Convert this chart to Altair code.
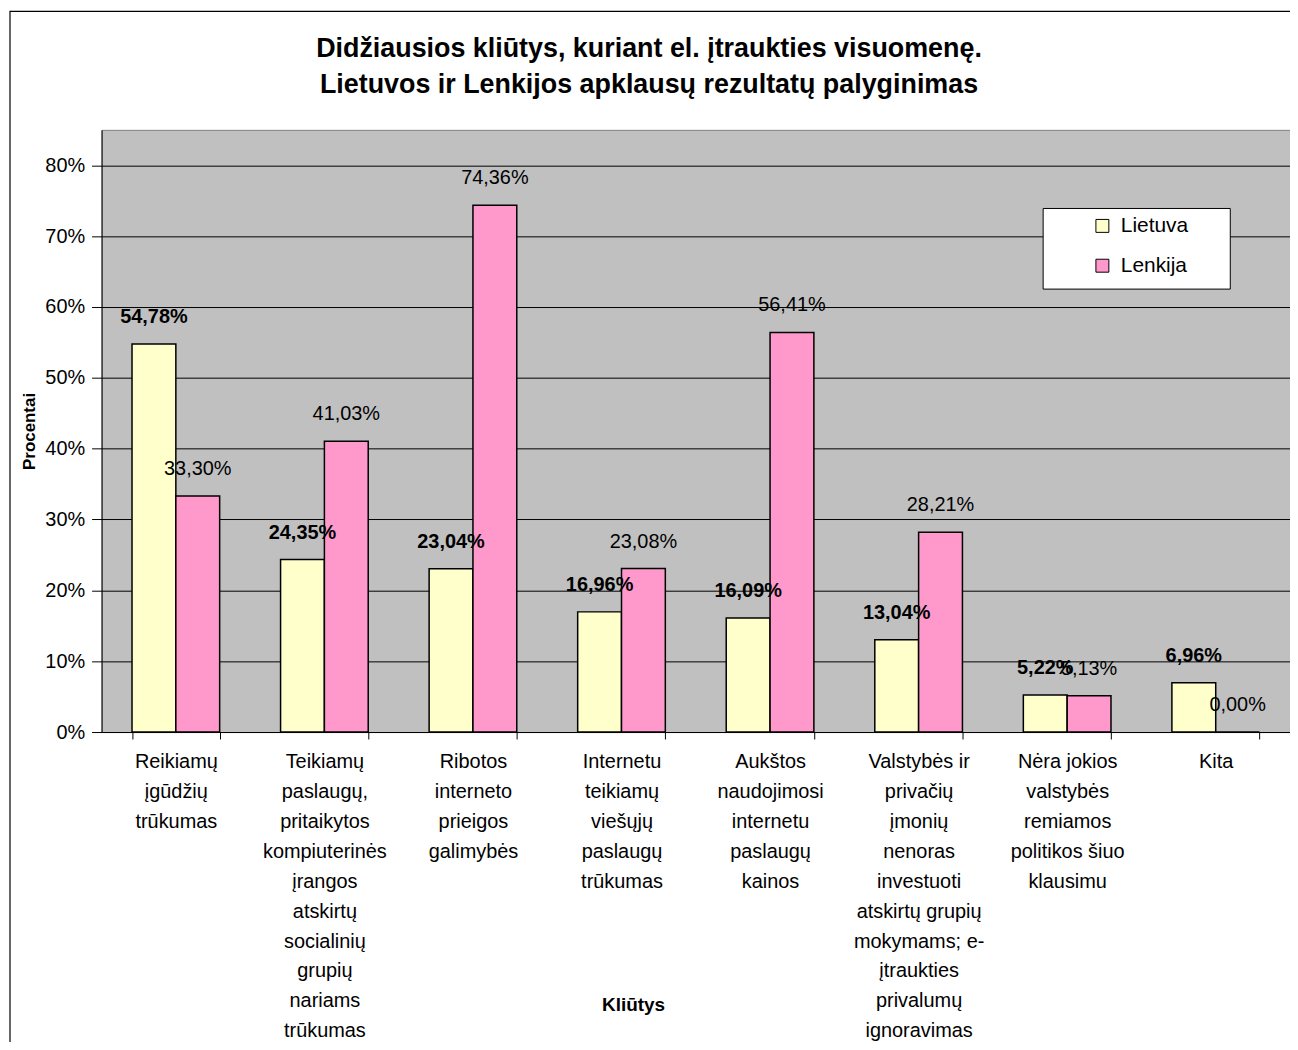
import altair as alt
import pandas as pd

categories = [
    "Reikiamų|įgūdžių|trūkumas",
    "Teikiamų|paslaugų,|pritaikytos|kompiuterinės|įrangos|atskirtų|socialinių|grupių|nariams|trūkumas",
    "Ribotos|interneto|prieigos|galimybės",
    "Internetu|teikiamų|viešųjų|paslaugų|trūkumas",
    "Aukštos|naudojimosi|internetu|paslaugų|kainos",
    "Valstybės ir|privačių|įmonių|nenoras|investuoti|atskirtų grupių|mokymams; e-|įtraukties|privalumų|ignoravimas",
    "Nėra jokios|valstybės|remiamos|politikos šiuo|klausimu",
    "Kita",
]
lietuva = [54.78, 24.35, 23.04, 16.96, 16.09, 13.04, 5.22, 6.96]
lenkija = [33.30, 41.03, 74.36, 23.08, 56.41, 28.21, 5.13, 0.00]
series_names = ["Lietuva", "Lenkija"]
series_colors = ["#FFFFCC", "#FF99CC"]
y_ticks = [0, 0.1, 0.2, 0.3, 0.4, 0.5, 0.6, 0.7, 0.8]
title_lines = [
    "Didžiausios kliūtys, kuriant el. įtraukties visuomenę.",
    "Lietuvos ir Lenkijos apklausų rezultatų palyginimas",
]

rows = []
for c, a, b in zip(categories, lietuva, lenkija):
    for s, v in zip(series_names, (a, b)):
        rows.append({"cat": c, "series": s, "value": v / 100,
                     "label": f"{v:.2f}%".replace(".", ",")})
df = pd.DataFrame(rows)

W, H = 1194, 605
FONT = "Liberation Sans"

x_enc = alt.X(
    "cat:N", sort=categories,
    scale=alt.Scale(paddingInner=0.41, paddingOuter=0.205),
    axis=alt.Axis(
        title="Kliūtys", labelExpr="split(datum.label, '|')", labelAngle=0,
        labelFontSize=20, labelLineHeight=30, labelLimit=400, labelPadding=13,
        labelBaseline="top", labelColor="black", labelFont=FONT,
        tickBand="extent", tickSize=7, tickColor="black", domainColor="black",
        grid=False, titleX=534, titleY=274, titleAlign="center",
        titleBaseline="middle", titleFontSize=19, titleFontWeight="bold",
        titleFont=FONT, titleColor="black",
    ),
)
y_enc = alt.Y(
    "value:Q", scale=alt.Scale(domain=[0, 0.85], nice=False),
    axis=alt.Axis(
        values=y_ticks, format=".0%", title="Procentai", grid=True,
        gridColor="black", gridWidth=1, tickColor="black", tickSize=10,
        domainColor="black", labelFontSize=20, labelPadding=7,
        labelColor="black", labelFont=FONT,
        titleX=-72, titleY=H / 2, titleAngle=-90, titleAlign="center",
        titleBaseline="middle", titleFontSize=17, titleFontWeight="bold",
        titleFont=FONT, titleColor="black",
    ),
)
xoff = alt.XOffset("series:N", sort=series_names,
                   scale=alt.Scale(domain=series_names))

base = alt.Chart(df)

bars = base.mark_bar(stroke="black", strokeWidth=1.5).encode(
    x=x_enc, y=y_enc, xOffset=xoff,
    color=alt.Color(
        "series:N", sort=series_names,
        scale=alt.Scale(domain=series_names, range=series_colors),
        legend=alt.Legend(
            title=None, orient="none", legendX=995, legendY=86,
            symbolType="square", symbolSize=169, symbolStrokeColor="black",
            symbolStrokeWidth=1, labelFontSize=21, labelOffset=8,
            rowPadding=18, padding=0, labelFont=FONT, labelColor="black",
        ),
    ),
)

lab_lt = base.transform_filter(alt.datum.series == "Lietuva").mark_text(
    dy=-27, fontSize=20, fontWeight="bold", font=FONT, color="black",
    baseline="middle").encode(x=x_enc, y=y_enc, xOffset=xoff, text="label:N")
lab_pl = base.transform_filter(alt.datum.series == "Lenkija").mark_text(
    dy=-27, fontSize=20, font=FONT, color="black",
    baseline="middle").encode(x=x_enc, y=y_enc, xOffset=xoff, text="label:N")

one = alt.Chart(pd.DataFrame({"k": [0]}))
frame = one.mark_rect(filled=False, stroke="black", strokeWidth=1.2).encode(
    x=alt.value(-92), x2=alt.value(W + 40), y=alt.value(-119), y2=alt.value(1000))
legend_box = one.mark_rect(fill="white", stroke="black", strokeWidth=1).encode(
    x=alt.value(946), x2=alt.value(1134), y=alt.value(79), y2=alt.value(160))
title = one.mark_text(
    text=title_lines, fontSize=27, fontWeight="bold", font=FONT, color="black",
    align="center", baseline="middle", lineHeight=36,
).encode(x=alt.value(W / 2 - 47), y=alt.value(-81))

chart = alt.layer(frame, bars, legend_box, lab_lt, lab_pl, title).properties(
    width=W, height=H,
    autosize=alt.AutoSizeParams(type="none"),
    padding={"left": 94, "top": 120, "right": 0, "bottom": 309},
    background="white",
).configure_view(fill="#C0C0C0", stroke="#808080", strokeWidth=1)

chart.save("out.html", embed_options={"renderer": "svg", "actions": False})
